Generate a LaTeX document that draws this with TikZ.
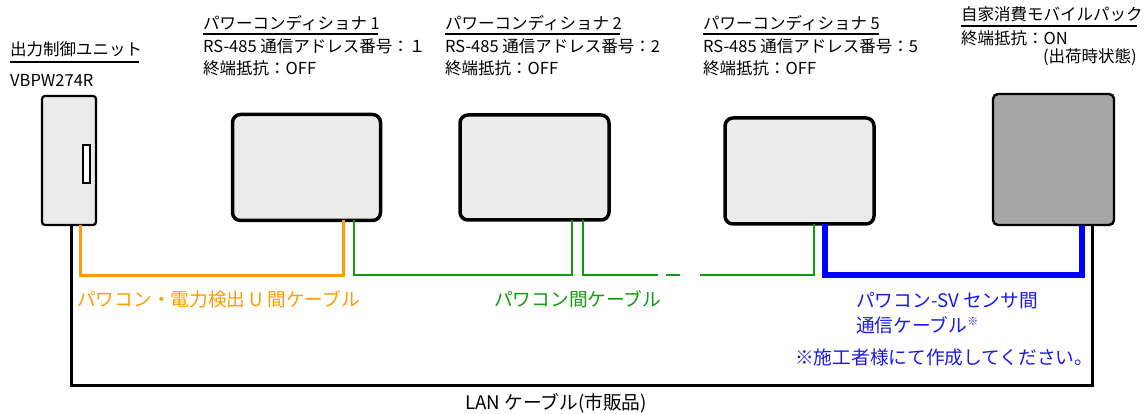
\documentclass[tikz,border=0pt]{standalone}
\usepackage{fontspec}
\setmainfont{Noto Sans CJK JP}
\definecolor{boxgray}{HTML}{EBEBEB}
\definecolor{packgray}{HTML}{A6A6A6}
\definecolor{corange}{HTML}{FF9A00}
\definecolor{cgreen}{HTML}{109A10}
\definecolor{cblue}{HTML}{0000FF}
\definecolor{tblue}{HTML}{1A1AE6}
\begin{document}
\begin{tikzpicture}[x=1pt,y=-1pt,
  txt/.style={font=\fontsize{16.5}{19}\selectfont, inner sep=0pt, anchor=base west},
  lbl/.style={font=\fontsize{18.7}{21}\selectfont, inner sep=0pt, anchor=base west},
  pcbox/.style={draw=black, line width=3.5pt, fill=boxgray, rounded corners=8pt, minimum width=148pt, minimum height=106pt, inner sep=0pt, outer sep=0pt},
  unitbox/.style={draw=black, line width=2.2pt, fill=boxgray, rounded corners=3pt, minimum width=54pt, minimum height=129pt, inner sep=0pt, outer sep=0pt},
  slotbox/.style={draw=black, line width=2pt, fill=white, minimum width=7pt, minimum height=38pt, inner sep=0pt, outer sep=0pt},
  packbox/.style={draw=black, line width=2.4pt, fill=packgray, rounded corners=5pt, minimum width=121pt, minimum height=131pt, inner sep=0pt, outer sep=0pt},
  uline/.style={draw=black, line width=1.3pt},
  lan/.style={draw=black, line width=3pt},
  orcable/.style={draw=corange, line width=3pt},
  grcable/.style={draw=cgreen, line width=2.6pt},
  blcable/.style={draw=cblue, line width=6pt},
]
\useasboundingbox (0,0) rectangle (1146,414);

% boxes
\node[unitbox] (unit) at (69,160.5) {};
\node[slotbox] (slot) at (86.5,164) {};
\node[pcbox] (pc1) at (306.5,167.5) {};
\node[pcbox, minimum width=149pt, minimum height=105pt] (pc2) at (534.5,167.5) {};
\node[pcbox, minimum width=149pt] (pc5) at (799.5,171) {};
\node[packbox] (pack) at (1053.5,159.5) {};

% titles
\node[txt] (tunit) at (10,56) {出力制御ユニット};
\node[txt] (tunit2) at (10,87) {VBPW274R};
\draw[uline] (10,62) -- (139,62);

\node[txt] (t1a) at (203,30) {パワーコンディショナ 1};
\node[txt] (t1b) at (203,53) {RS-485 通信アドレス番号：１};
\node[txt] (t1c) at (203,75) {終端抵抗：OFF};
\draw[uline] (203,34) -- (378,34);

\node[txt] (t2a) at (445,30) {パワーコンディショナ 2};
\node[txt] (t2b) at (445,53) {RS-485 通信アドレス番号：2};
\node[txt] (t2c) at (445,75) {終端抵抗：OFF};
\draw[uline] (445,34) -- (620,34);

\node[txt] (t5a) at (703,30) {パワーコンディショナ 5};
\node[txt] (t5b) at (703,53) {RS-485 通信アドレス番号：5};
\node[txt] (t5c) at (703,75) {終端抵抗：OFF};
\draw[uline] (703,34) -- (879,34);

\node[txt] (tpa) at (961,21) {自家消費モバイルパック};
\node[txt] (tpb) at (961,45) {終端抵抗：ON};
\node[txt, anchor=base east] (tpc) at (1137,63) {(出荷時状態)};
\draw[uline] (961,26) -- (1137,26);

% LAN cable
\draw[lan] (71,0 |- unit.south) -- (71,385) -- (1092,385) -- (1092,0 |- pack.south);
\node[lbl] (tlan) at (465,409) {LAN ケーブル(市販品)};

% orange cable
\draw[orcable] (80,0 |- unit.south) -- (80,275) -- (343,275) -- (343,0 |- pc1.south);
\node[lbl, text=corange] (tor) at (77,306) {パワコン・電力検出 U 間ケーブル};

% green cables
\draw[grcable] (354,0 |- pc1.south) -- (354,275) -- (572,275) -- (572,0 |- pc2.south);
\coordinate (g1) at (658,275);
\coordinate (g2) at (666,275);
\coordinate (g3) at (680,275);
\coordinate (g4) at (700,275);
\draw[grcable] (583,0 |- pc2.south) -- (583,275) -- (g1);
\draw[grcable] (g2) -- (g3);
\draw[grcable] (g4) -- (814,275) -- (814,0 |- pc5.south);
\node[lbl, text=cgreen] (tgr) at (494,306) {パワコン間ケーブル};

% blue cable
\draw[blcable] (825,0 |- pc5.south) -- (825,275) -- (1082,275) -- (1082,0 |- pack.south);
\node[lbl, text=tblue] (tbl1) at (856,307) {パワコン-SV センサ間};
\node[lbl, text=tblue] (tbl2) at (856,332) {通信ケーブル\raisebox{7pt}{\fontsize{11}{11}\selectfont ※}};
\node[lbl, text=tblue] (tbl3) at (795,364) {※施工者様にて作成してください。};
\end{tikzpicture}
\end{document}
